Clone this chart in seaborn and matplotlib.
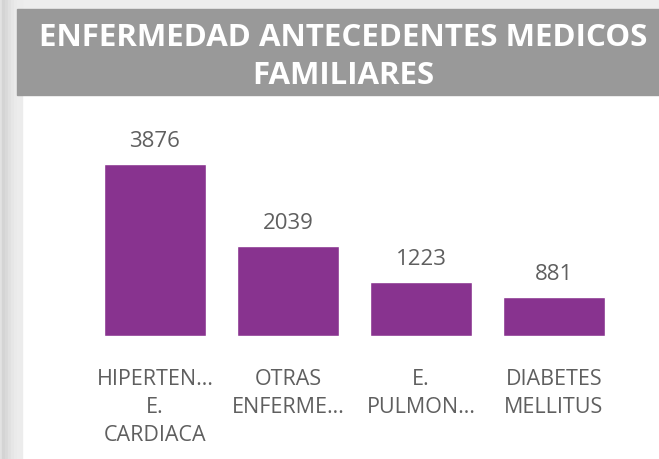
import matplotlib
matplotlib.use("Agg")
import matplotlib.pyplot as plt
import seaborn as sns
import pandas as pd
from matplotlib.patches import Rectangle

# chart data
categories = ["HIPERTEN…\nE.\nCARDIACA", "OTRAS\nENFERME…", "E.\nPULMON…", "DIABETES\nMELLITUS"]
values = [3876, 2039, 1223, 881]
title = "ENFERMEDAD ANTECEDENTES MEDICOS\nFAMILIARES"

BAR_COLOR = "#88338F"
TEXT_GRAY = "#5F5F5F"
BANNER_GRAY = "#999999"

sns.set_theme(style="white")
plt.rcParams["font.family"] = ["Open Sans", "DejaVu Sans"]

W, H = 659, 460
fig = plt.figure(figsize=(W / 100, H / 100), dpi=100)
fig.patch.set_facecolor("white")

# page background: light strip on top and a soft shadow on the left
fig.patches.append(Rectangle((0, 1 - 10 / H), 1, 10 / H, transform=fig.transFigure,
                             color="#EEEEEE", zorder=0))
shades = ["#E2E2E2", "#D4D4D4", "#D9D9D9", "#E0E0E0", "#E6E6E6", "#EAEAEA", "#ECECEC"]
edges = [0, 2, 5, 8, 11, 14, 17, 22]
for i, c in enumerate(shades):
    fig.patches.append(Rectangle((edges[i] / W, 0), (edges[i + 1] - edges[i]) / W, 1,
                                 transform=fig.transFigure, color=c, zorder=0))

# title banner
fig.patches.append(Rectangle((17 / W, 1 - 96 / H), 1, 86 / H, transform=fig.transFigure,
                             color=BANNER_GRAY, zorder=1))
fig.text(343 / W, 1 - 57 / H, title, ha="center", va="center", color="white",
         fontsize=22.5, fontweight="bold", linespacing=1.33, zorder=2)

# bars
df = pd.DataFrame({"cat": categories, "val": values})
ax = fig.add_axes([88.5 / W, (H - 337) / H, 532 / W, 217 / H])
sns.barplot(data=df, x="cat", y="val", color=BAR_COLOR, saturation=1, width=0.77, ax=ax)
ax.set_xlim(-0.5, 3.5)
ax.set_ylim(0, 4890)
ax.set_facecolor("none")
for s in ax.spines.values():
    s.set_visible(False)
ax.set_yticks([])
ax.set_xlabel("")
ax.set_ylabel("")
ax.tick_params(axis="x", length=0, pad=23, labelsize=15.5, labelcolor=TEXT_GRAY)
for lbl in ax.get_xticklabels():
    lbl.set_linespacing(1.43)

for i, v in enumerate(values):
    ax.annotate(str(v), (i, v), xytext=(0, 9), textcoords="offset points",
                ha="center", va="bottom", fontsize=16, color=TEXT_GRAY)

fig.savefig("out.png", dpi=100)
